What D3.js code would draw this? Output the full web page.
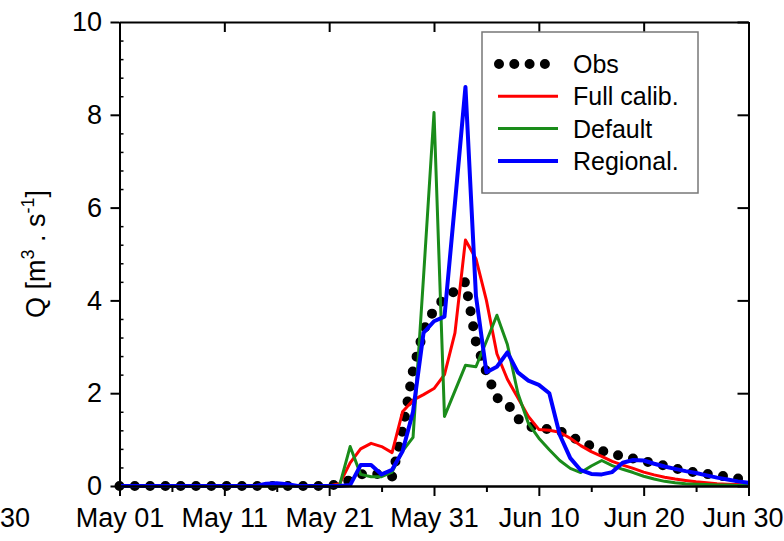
<!DOCTYPE html>
<html><head><meta charset="utf-8">
<script src="https://cdn.jsdelivr.net/npm/d3@7"></script>
<style>
body{margin:0;background:#fff;}
svg{display:block;font-family:"Liberation Sans",Arial,Helvetica,sans-serif;}
</style>
</head><body>
<svg id="c" width="784" height="541"></svg>
<script>
// ---------- data ----------
const startDate = "2000-05-01";
const tickLabels = ["May 01","May 11","May 21","May 31","Jun 10","Jun 20","Jun 30"];
const yTicks = [0,2,4,6,8,10];
const seriesNames = ["Obs","Full calib.","Default","Regional."];

const obs = [0,0,0,0,0,0,0,0,0,0,0,0,0,0,0,0,0,0,0,0,0,
  0.05,0.13,0.25,0.27,0.25,0.2,1.2,2.5,3.35,3.8,4.05,4.2,4.4,3.1,2.45,1.9,1.78,1.45,1.28,1.25,
  1.22,1.18,1.08,0.95,0.86,0.76,0.69,0.64,0.59,0.54,0.49,0.44,0.38,0.33,0.29,0.26,0.23,0.2,0.16,0.12];
const fullCalib = [0,0,0,0,0,0,0,0,0,0,0,0,0,0,0.01,0.01,0.01,0,0,0,0,
  0.05,0.5,0.8,0.92,0.85,0.72,1.6,1.85,1.97,2.1,2.4,3.3,5.3,4.9,4.0,2.85,2.3,1.9,1.5,1.22,
  1.2,1.16,1.03,0.87,0.74,0.64,0.53,0.45,0.38,0.3,0.24,0.19,0.15,0.12,0.09,0.07,0.05,0.04,0.03,0.02];
const defaultRun = [0,0,0,0,0,0,0,0,0,0,0,0,0,0,0,0,0,0,0,0,0,
  0.02,0.85,0.25,0.2,0.2,0.3,0.75,1.05,4.5,8.05,1.5,2.05,2.6,2.57,3.12,3.68,3.05,2.0,1.35,1.03,
  0.78,0.55,0.38,0.29,0.43,0.55,0.44,0.36,0.29,0.21,0.15,0.1,0.07,0.05,0.04,0.03,0.02,0.02,0.01,0.01];
const regional = [0,0,0,0,0,0,0,0,0,0,0,0,0,0,0.05,0.06,0.04,0,0,0,0,
  0,0.02,0.45,0.45,0.25,0.35,0.75,1.6,3.3,3.55,3.65,6.1,8.6,4.1,2.45,2.57,2.88,2.45,2.27,2.18,
  2.0,1.1,0.6,0.34,0.26,0.25,0.3,0.5,0.56,0.55,0.48,0.42,0.37,0.32,0.28,0.23,0.18,0.14,0.1,0.07];

// ---------- setup ----------
const svg = d3.select("#c");
const t0 = d3.utcParse("%Y-%m-%d")(startDate);
const dates = obs.map((_, i) => d3.utcDay.offset(t0, i));
const tp = d3.utcParse("%Y %b %d");
const tickDates = tickLabels.map(s => tp("2000 " + s));
const minorDates = tickDates.slice(0, -1).map(d => d3.utcDay.offset(d, 5));

const x = d3.scaleUtc().domain([tickDates[0], tickDates[tickDates.length-1]]).range([119.5, 748.5]);
const y = d3.scaleLinear().domain([0, 10]).range([486, 22]);
const yMinor = d3.range(0, 10.01, 0.4).map(v => +v.toFixed(1)).filter(v => Math.abs(v/2 - Math.round(v/2)) > 1e-6);

const fs = 27;
function styleAxis(g){
  g.select(".domain").attr("stroke","#000").attr("stroke-width",2);
  g.selectAll(".tick line").attr("stroke","#000").attr("stroke-width",2);
  g.selectAll(".tick text").attr("font-size",fs).attr("fill","#000").attr("font-family",'"Liberation Sans",Arial,sans-serif');
}

// lines
const line = d3.line().x((d,i) => x(dates[i])).y(d => y(d));

// obs as dotted line
svg.append("path").datum(obs).attr("d", line)
  .attr("fill","none").attr("stroke","#000").attr("stroke-width",10)
  .attr("stroke-linecap","round").attr("stroke-dasharray","0 15.3");

const series = [
  {v: fullCalib, c: "#ff0000", w: 3},
  {v: defaultRun, c: "#1a8c1a", w: 3},
  {v: regional, c: "#0000ff", w: 4}
];
series.forEach(s => {
  svg.append("path").datum(s.v).attr("d", line)
    .attr("fill","none").attr("stroke",s.c).attr("stroke-width",s.w)
    .attr("stroke-linejoin","round");
});

// axes
const gb = svg.append("g").attr("transform","translate(0,486)")
  .call(d3.axisBottom(x).tickValues(tickDates).tickFormat((d,i)=>tickLabels[i]).tickSize(10).tickSizeOuter(0).tickPadding(11.8));
styleAxis(gb);
// keep the last label inside the picture
gb.selectAll(".tick text").filter((d,i,n) => i === n.length-1).attr("text-anchor","end").attr("dx", 783 - x(tickDates[tickDates.length-1]));
const gbm = svg.append("g").attr("transform","translate(0,486)")
  .call(d3.axisBottom(x).tickValues(minorDates).tickFormat("").tickSize(6).tickSizeOuter(0));
styleAxis(gbm);
const gt = svg.append("g").attr("transform","translate(0,22)")
  .call(d3.axisTop(x).tickValues(tickDates).tickFormat("").tickSize(-10).tickSizeOuter(0));
styleAxis(gt);
const gl = svg.append("g").attr("transform","translate(119.5,0)")
  .call(d3.axisLeft(y).tickValues(yTicks).tickSize(9).tickSizeOuter(0).tickPadding(8.5));
styleAxis(gl);
const glm = svg.append("g").attr("transform","translate(119.5,0)")
  .call(d3.axisLeft(y).tickValues(yMinor).tickFormat("").tickSize(-4).tickSizeOuter(0));
styleAxis(glm);
glm.selectAll(".tick line").attr("stroke-width",1.5);
const gr = svg.append("g").attr("transform","translate(748.5,0)")
  .call(d3.axisRight(y).tickValues(yTicks).tickFormat("").tickSize(-11).tickSizeOuter(0));
styleAxis(gr);

// stray label fragment from the neighbouring panel, as in the reference
svg.append("text").attr("x",0).attr("y",527).attr("text-anchor","start")
  .attr("font-size",fs).text("30");

// y title
const yt = svg.append("text").attr("transform","translate(45,254) rotate(-90)")
  .attr("text-anchor","middle").attr("font-size",fs);
yt.append("tspan").text("Q [m");
yt.append("tspan").attr("dy",-11).attr("font-size",18).text("3");
yt.append("tspan").attr("dy",11).text(" . s");
yt.append("tspan").attr("dy",-11).attr("font-size",18).text("-1");
yt.append("tspan").attr("dy",11).text("]");

// legend
const lg = svg.append("g");
lg.append("rect").attr("x",482).attr("y",32).attr("width",216).attr("height",161)
  .attr("fill","#fff").attr("stroke","#777").attr("stroke-width",1.5);
const legItems = [
  {name: seriesNames[0], c:"#000", w:10, dash:"0 15.3", cap:"round"},
  {name: seriesNames[1], c:"#ff0000", w:3},
  {name: seriesNames[2], c:"#1a8c1a", w:3},
  {name: seriesNames[3], c:"#0000ff", w:4}
];
legItems.forEach((it, i) => {
  const cy = 64 + i*32.3;
  const p = lg.append("line").attr("x1", it.dash ? 499 : 498).attr("x2", it.dash ? 546 : 558)
    .attr("y1",cy).attr("y2",cy).attr("stroke",it.c).attr("stroke-width",it.w);
  if (it.dash) p.attr("stroke-dasharray",it.dash).attr("stroke-linecap",it.cap);
  lg.append("text").attr("x",573).attr("y",cy+9).attr("font-size",25).text(it.name);
});
</script>
</body></html>
